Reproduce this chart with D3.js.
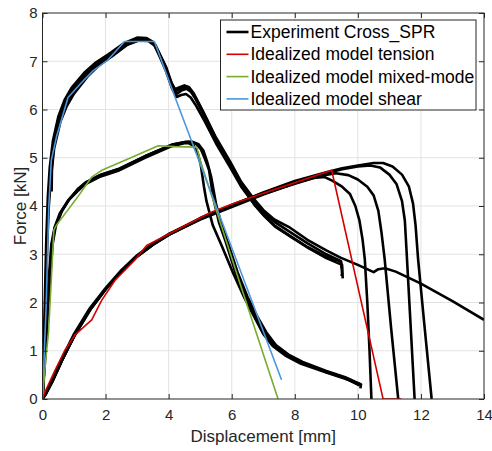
<!DOCTYPE html>
<html lang="en">
<head>
<meta charset="UTF-8">
<title>Force vs displacement</title>
<script src="https://d3js.org/d3.v7.min.js"></script>
<style>
  body { margin: 0; background: #fff; }
  svg { display: block; font-family: "Liberation Sans", Arial, Helvetica, sans-serif; }
  .grid line { stroke: #e3e3e3; stroke-width: 1; }
  .tick-lab { fill: #262626; font-size: 15px; }
  .ax-lab { fill: #262626; font-size: 17px; }
  .leg-text { fill: #000; font-size: 17.5px; }
</style>
</head>
<body>
<div id="chart"></div>
<script>
// axis ticks
const xTicks = [0, 2, 4, 6, 8, 10, 12, 14];
const yTicks = [0, 1, 2, 3, 4, 5, 6, 7, 8];

// experiments - shear specimens
const shear1 = [[0,0],[0.04,1.0],[0.08,2.2],[0.12,3.3],[0.17,4.2],[0.23,4.8],[0.33,5.35],[0.5,5.85],[0.7,6.2],[0.92,6.45],[1.35,6.78],[1.7,6.98],[2.1,7.15],[2.6,7.38],[3.0,7.49],[3.3,7.48],[3.5,7.4],[3.65,7.22],[3.85,6.95],[4.05,6.6],[4.2,6.42],[4.35,6.46],[4.5,6.5],[4.65,6.46],[4.8,6.33],[5.1,5.95],[5.5,5.42],[5.95,4.92],[6.3,4.5],[6.7,4.15],[7.0,3.92],[7.35,3.72],[7.85,3.55],[8.4,3.3],[9.0,3.08],[9.45,2.93],[10.0,2.78],[10.5,2.63],[10.65,2.69],[10.86,2.71],[11.2,2.64],[11.97,2.4],[13.0,2.03],[14.0,1.64]];
const shear2 = [[0,0],[0.05,1.0],[0.1,2.2],[0.14,3.3],[0.19,4.1],[0.25,4.65],[0.35,5.25],[0.55,5.8],[0.75,6.1],[0.95,6.35],[1.4,6.72],[1.75,6.93],[2.15,7.1],[2.65,7.33],[3.05,7.43],[3.35,7.42],[3.55,7.33],[3.7,7.12],[3.9,6.82],[4.1,6.45],[4.25,6.26],[4.4,6.3],[4.55,6.32],[4.7,6.25],[4.85,6.1],[5.15,5.75],[5.5,5.3],[5.95,4.8],[6.3,4.4],[6.7,4.05],[7.0,3.82],[7.35,3.6],[7.85,3.38],[8.4,3.15],[9.0,2.95],[9.47,2.85],[9.5,2.6],[9.48,2.55]];
const shear3 = [[0,0],[0.06,1.0],[0.11,2.1],[0.15,3.2],[0.2,4.0],[0.27,4.6],[0.37,5.2],[0.57,5.75],[0.77,6.07],[1.0,6.33],[1.45,6.7],[1.8,6.92],[2.2,7.1],[2.7,7.35],[3.1,7.45],[3.38,7.43],[3.58,7.34],[3.72,7.15],[3.92,6.88],[4.12,6.5],[4.27,6.33],[4.42,6.4],[4.57,6.43],[4.72,6.36],[4.88,6.2],[5.2,5.8],[5.55,5.3],[6.0,4.78],[6.35,4.38],[6.75,4.0],[7.05,3.78],[7.4,3.56],[7.9,3.35],[8.45,3.12],[9.0,2.92],[9.5,2.78],[9.52,2.5]];
const shear4 = [[0.29,4.3],[0.3,4.8],[0.36,5.3],[0.52,5.8],[0.72,6.15],[0.95,6.42],[1.4,6.75],[1.75,6.95],[2.15,7.12],[2.65,7.36],[3.05,7.46],[3.32,7.45],[3.52,7.37],[3.68,7.18],[3.88,6.9],[4.08,6.55],[4.22,6.38],[4.38,6.43],[4.52,6.46],[4.68,6.4],[4.83,6.25],[5.12,5.88],[5.52,5.36],[5.97,4.85],[6.32,4.45],[6.72,4.08],[7.02,3.86],[7.38,3.66],[7.88,3.45],[8.42,3.22],[9.0,3.0],[9.45,2.86],[9.5,2.7]];

// experiments - mixed-mode specimens
const mixed1 = [[0,0],[0.06,0.8],[0.12,1.6],[0.2,2.5],[0.28,3.2],[0.38,3.55],[0.55,3.85],[0.8,4.1],[1.1,4.3],[1.35,4.45],[1.8,4.6],[2.4,4.73],[3.25,5.0],[4.1,5.24],[4.5,5.3],[4.65,5.3],[4.8,5.24],[4.92,5.1],[5.02,4.85],[5.12,4.4],[5.2,4.1],[5.4,3.6],[5.7,3.15],[6.05,2.6],[6.4,2.1],[6.7,1.72],[7.0,1.35],[7.3,1.1],[7.7,0.9],[8.2,0.73],[9.0,0.55],[9.6,0.42],[10.1,0.3]];
const mixed2 = [[0,0],[0.07,0.8],[0.14,1.6],[0.22,2.5],[0.3,3.2],[0.4,3.57],[0.6,3.88],[0.82,4.12],[1.1,4.33],[1.35,4.48],[1.8,4.63],[2.4,4.76],[3.25,5.03],[4.1,5.27],[4.5,5.32],[4.7,5.33],[4.88,5.28],[5.02,5.18],[5.15,4.98],[5.28,4.75],[5.42,4.15],[5.6,3.65],[5.8,3.28],[6.15,2.55],[6.45,2.1],[6.75,1.75],[7.05,1.38],[7.35,1.12],[7.75,0.92],[8.2,0.76],[9.0,0.56],[9.6,0.43],[10.06,0.28]];
const mixed3 = [[0,0],[0.08,0.8],[0.15,1.6],[0.24,2.5],[0.32,3.2],[0.42,3.58],[0.62,3.9],[0.85,4.14],[1.12,4.35],[1.4,4.5],[1.85,4.65],[2.45,4.78],[3.3,5.05],[4.15,5.28],[4.55,5.33],[4.75,5.33],[4.95,5.28],[5.1,5.15],[5.22,4.92],[5.35,4.6],[5.5,4.05],[5.68,3.6],[5.9,3.2],[6.2,2.6],[6.5,2.12],[6.8,1.72],[7.1,1.38],[7.4,1.12],[7.8,0.92],[8.25,0.77],[9.0,0.58],[9.6,0.45],[10.1,0.3],[10.08,0.22]];

// experiments - tension specimens
const tension1 = [[0,0],[0.1,0.12],[0.3,0.38],[0.6,0.82],[1.0,1.35],[1.5,1.88],[2.0,2.3],[2.5,2.67],[3.0,2.98],[3.5,3.22],[4.0,3.42],[5.0,3.74],[6.0,4.0],[7.0,4.25],[8.0,4.46],[8.6,4.58],[8.95,4.6],[9.2,4.52],[9.5,4.4],[9.75,4.25],[9.92,4.0],[10.05,3.7],[10.15,3.3],[10.22,2.9],[10.3,2.0],[10.37,1.0],[10.43,0]];
const tension2 = [[0,0],[0.1,0.1],[0.3,0.35],[0.6,0.78],[1.0,1.3],[1.5,1.84],[2.0,2.27],[2.5,2.64],[3.0,2.95],[3.5,3.2],[4.0,3.4],[5.0,3.72],[6.0,3.98],[7.0,4.24],[8.0,4.47],[8.8,4.62],[9.3,4.68],[9.7,4.64],[10.0,4.55],[10.3,4.4],[10.5,4.22],[10.65,3.9],[10.75,3.45],[10.85,2.9],[11.05,1.5],[11.28,0]];
const tension3 = [[0,0],[0.12,0.12],[0.32,0.37],[0.62,0.8],[1.02,1.32],[1.52,1.86],[2.02,2.29],[2.52,2.66],[3.02,2.97],[3.52,3.21],[4.02,3.41],[5.0,3.75],[6.0,4.02],[7.0,4.27],[8.0,4.5],[9.0,4.68],[9.5,4.76],[10.0,4.82],[10.4,4.84],[10.7,4.8],[11.0,4.65],[11.23,4.45],[11.4,4.1],[11.49,3.7],[11.55,3.0],[11.65,1.8],[11.8,0]];
const tension4 = [[0,0],[0.11,0.11],[0.31,0.36],[0.61,0.79],[1.01,1.31],[1.51,1.85],[2.01,2.28],[2.51,2.65],[3.01,2.96],[3.51,3.2],[4.01,3.4],[5.0,3.73],[6.0,4.01],[7.0,4.28],[8.0,4.52],[9.0,4.7],[9.5,4.78],[10.0,4.84],[10.5,4.89],[10.8,4.89],[11.1,4.82],[11.4,4.65],[11.62,4.4],[11.75,4.05],[11.83,3.6],[11.91,2.9],[12.1,1.6],[12.34,0]];

// idealized models
const modelTension = [[0,0],[0.08,0.15],[0.4,0.6],[0.71,1.01],[1.03,1.33],[1.56,1.64],[1.88,2.05],[2.3,2.46],[2.93,2.88],[3.3,3.18],[4.04,3.43],[5.31,3.86],[6.16,4.08],[7.85,4.45],[9.17,4.74],[10.8,0],[11.38,0]];
const modelMixed = [[0,0],[0.1,0.8],[0.19,1.37],[0.29,2.6],[0.36,3.5],[0.42,3.58],[0.55,3.7],[0.82,3.93],[1.13,4.2],[1.56,4.6],[1.88,4.74],[2.8,5.0],[3.67,5.25],[4.2,5.23],[4.89,5.22],[5.0,4.95],[6.26,2.4],[7.47,0]];
const modelShear = [[0,0],[0.12,2.0],[0.2,4.0],[0.28,4.95],[0.45,5.45],[0.81,6.25],[1.24,6.56],[1.6,6.8],[2.08,7.03],[2.6,7.41],[3.55,7.41],[4.2,6.26],[7.58,0.4]];

const experiments = [shear1, shear2, shear3, shear4, mixed1, mixed2, mixed3, tension1, tension2, tension3, tension4];

const legendNames = ["Experiment Cross_SPR", "Idealized model tension", "Idealized model mixed-mode", "Idealized model shear"];
const legendColors = ["#000000", "#d40000", "#77ac30", "#4d96dc"];

const width = 492, height = 451;
const margin = { top: 13, right: 8, bottom: 52, left: 42.5 };
const w = width - margin.left - margin.right;
const h = height - margin.top - margin.bottom;

const svg = d3.select("#chart").append("svg")
    .attr("width", width)
    .attr("height", height);

svg.append("rect").attr("width", width).attr("height", height).attr("fill", "#fff");

const g = svg.append("g").attr("transform", `translate(${margin.left},${margin.top})`);

const x = d3.scaleLinear().domain([0, 14]).range([0, w]);
const y = d3.scaleLinear().domain([0, 8]).range([h, 0]);

// grid
g.append("g").attr("class", "grid")
    .selectAll("line").data(xTicks.slice(1, -1)).enter().append("line")
    .attr("x1", d => x(d)).attr("x2", d => x(d))
    .attr("y1", 0).attr("y2", h);
g.append("g").attr("class", "grid")
    .selectAll("line").data(yTicks.slice(1, -1)).enter().append("line")
    .attr("x1", 0).attr("x2", w)
    .attr("y1", d => y(d)).attr("y2", d => y(d));

svg.append("clipPath").attr("id", "clip")
    .append("rect").attr("width", w).attr("height", h);

const line = d3.line().x(d => x(d[0])).y(d => y(d[1]));
const plot = g.append("g").attr("clip-path", "url(#clip)");

plot.selectAll(".exp").data(experiments).enter().append("path")
    .attr("class", "exp")
    .attr("d", line)
    .attr("fill", "none")
    .attr("stroke", "#000")
    .attr("stroke-width", 2.6)
    .attr("stroke-linejoin", "round");

const models = [modelTension, modelMixed, modelShear];
plot.selectAll(".model").data(models).enter().append("path")
    .attr("class", "model")
    .attr("d", line)
    .attr("fill", "none")
    .attr("stroke", (d, i) => legendColors[i + 1])
    .attr("stroke-width", 1.6)
    .attr("stroke-linejoin", "round");

// axes (MATLAB-style box with inward ticks)
const tickLen = 5;
const axColor = "#262626";
g.append("g").attr("transform", `translate(0,${h})`)
    .call(d3.axisBottom(x).tickValues(xTicks).tickSize(-tickLen).tickPadding(8))
    .call(a => a.select(".domain").remove())
    .call(a => a.selectAll("line").attr("stroke", axColor))
    .call(a => a.selectAll("text").attr("class", "tick-lab").attr("font-size", null).attr("font-family", null).attr("dy", "0.85em"));
g.append("g")
    .call(d3.axisTop(x).tickValues(xTicks).tickSize(-tickLen).tickFormat(""))
    .call(a => a.select(".domain").remove())
    .call(a => a.selectAll("line").attr("stroke", axColor));
g.append("g")
    .call(d3.axisLeft(y).tickValues(yTicks).tickSize(-tickLen).tickPadding(5))
    .call(a => a.select(".domain").remove())
    .call(a => a.selectAll("line").attr("stroke", axColor))
    .call(a => a.selectAll("text").attr("class", "tick-lab").attr("font-size", null).attr("font-family", null));
g.append("g").attr("transform", `translate(${w},0)`)
    .call(d3.axisRight(y).tickValues(yTicks).tickSize(-tickLen).tickFormat(""))
    .call(a => a.select(".domain").remove())
    .call(a => a.selectAll("line").attr("stroke", axColor));

g.append("rect")
    .attr("width", w).attr("height", h)
    .attr("fill", "none").attr("stroke", axColor).attr("stroke-width", 1);

// axis labels
g.append("text").attr("class", "ax-lab")
    .attr("x", w / 2).attr("y", h + 43)
    .attr("text-anchor", "middle")
    .text("Displacement [mm]");
svg.append("text").attr("class", "ax-lab")
    .attr("transform", `translate(26,${margin.top + h / 2}) rotate(-90)`)
    .attr("text-anchor", "middle")
    .text("Force [kN]");

// legend
const leg = svg.append("g").attr("transform", "translate(220.5,20)");
leg.append("rect")
    .attr("width", 255.5).attr("height", 90)
    .attr("fill", "#fff").attr("stroke", axColor).attr("stroke-width", 1);
const rows = leg.selectAll(".row").data(legendNames).enter().append("g")
    .attr("transform", (d, i) => `translate(0,${12 + i * 22.3})`);
rows.append("line")
    .attr("x1", 6).attr("x2", 28)
    .attr("stroke", (d, i) => legendColors[i])
    .attr("stroke-width", (d, i) => i === 0 ? 2.6 : 1.6);
rows.append("text").attr("class", "leg-text")
    .attr("x", 30).attr("dy", "0.35em")
    .text(d => d);
</script>
</body>
</html>
